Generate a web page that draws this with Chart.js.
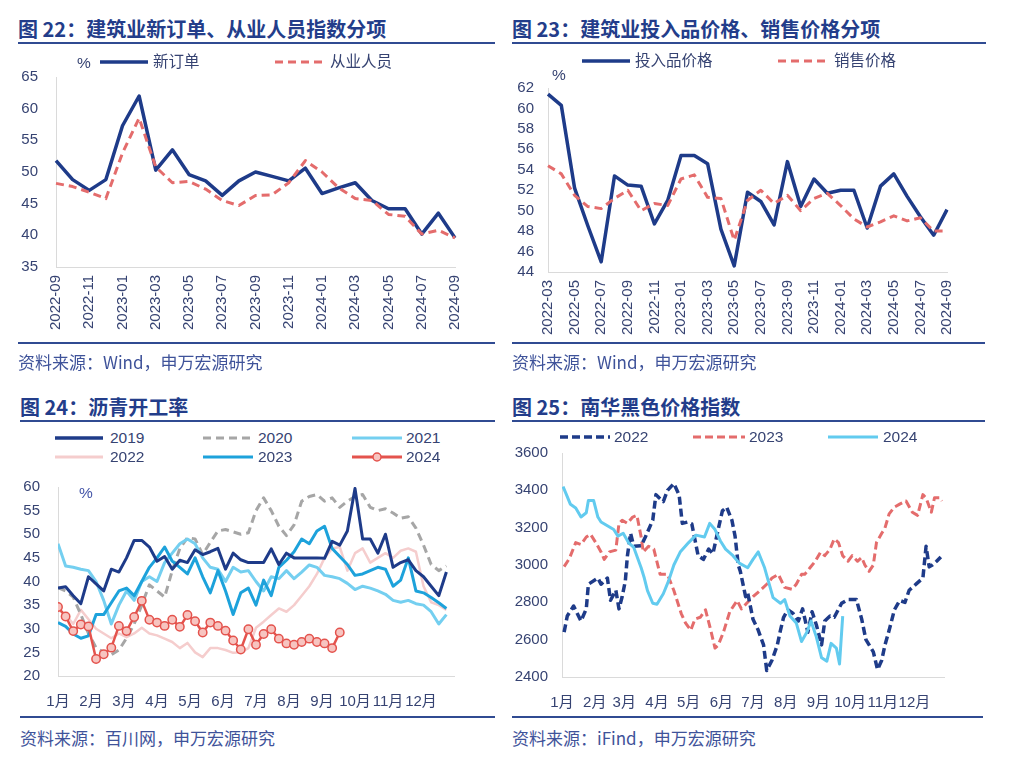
<!DOCTYPE html>
<html lang="zh-CN">
<head>
<meta charset="utf-8">
<title>建筑业与黑色商品图表</title>
<script src="https://cdn.jsdelivr.net/npm/chart.js@4.4.1/dist/chart.umd.min.js"></script>
<style>
html,body{margin:0;padding:0;background:#fff;}
body{position:relative;width:1024px;height:763px;overflow:hidden;}
canvas{position:absolute;}
.title{position:absolute;font-family:"Noto Sans CJK SC",sans-serif;font-weight:700;font-size:20px;color:#233D8A;white-space:nowrap;height:26px;line-height:26px;}
.rule{position:absolute;height:2px;background:#304B92;}
.src{position:absolute;font-family:"Noto Sans CJK SC",sans-serif;font-size:17px;color:#3F539A;white-space:nowrap;height:24px;line-height:24px;}
.lg{position:absolute;font-family:"Liberation Sans","Noto Sans CJK SC",sans-serif;font-size:15.5px;color:#364372;white-space:nowrap;height:20px;line-height:20px;z-index:2;}
.unit{color:#4556A8;}
svg.sw{position:absolute;z-index:2;overflow:visible;}
</style>
</head>
<body>
<canvas id="c1" width="500" height="300" style="left:0;top:50px"></canvas>
<canvas id="c2" width="500" height="300" style="left:500px;top:50px"></canvas>
<canvas id="c3" width="500" height="255" style="left:0;top:460px"></canvas>
<canvas id="c4" width="500" height="285" style="left:500px;top:430px"></canvas>
<script>
// ---------- Panel 22: construction new orders / employment ----------
const months1 = ['2022-09','2022-10','2022-11','2022-12','2023-01','2023-02','2023-03','2023-04','2023-05','2023-06','2023-07','2023-08','2023-09','2023-10','2023-11','2023-12','2024-01','2024-02','2024-03','2024-04','2024-05','2024-06','2024-07','2024-08','2024-09'];
const newOrders = [51.8,48.8,47.1,48.8,57.3,62.0,50.3,53.5,49.6,48.6,46.3,48.6,50.0,49.3,48.6,50.6,46.6,47.5,48.3,45.5,44.2,44.2,40.2,43.5,39.6];
const employment = [48.2,47.7,46.8,45.8,53.0,58.5,50.8,48.3,48.5,47.3,45.5,44.7,46.3,46.4,48.3,51.8,50.0,47.5,45.8,45.5,43.3,43.0,40.2,40.8,39.6];

// ---------- Panel 23: input price / sales price ----------
const months2 = ['2022-03','2022-04','2022-05','2022-06','2022-07','2022-08','2022-09','2022-10','2022-11','2022-12','2023-01','2023-02','2023-03','2023-04','2023-05','2023-06','2023-07','2023-08','2023-09','2023-10','2023-11','2023-12','2024-01','2024-02','2024-03','2024-04','2024-05','2024-06','2024-07','2024-08','2024-09'];
const inputPrice = [61.4,60.3,52.2,48.5,45.0,53.4,52.5,52.4,48.7,51.0,55.4,55.4,54.6,48.2,44.6,51.8,50.9,48.6,54.8,50.4,53.1,51.7,52.0,52.0,48.3,52.4,53.6,51.4,49.4,47.6,50.1];
const salesPrice = [54.4,53.6,51.5,50.4,50.2,51.2,52.0,50.0,50.7,50.5,53.1,53.5,51.3,51.2,47.1,51.0,52.0,50.7,51.5,50.0,51.2,51.7,50.5,49.2,48.4,48.9,49.5,49.0,49.3,48.0,48.0];

// ---------- Panel 24: asphalt operating rate (weekly) ----------
const monthLabels = ['1月','2月','3月','4月','5月','6月','7月','8月','9月','10月','11月','12月'];
const asphalt2019 = [38.6,38.9,37.0,35.3,41.0,39.5,38.0,42.6,42.0,45.0,48.7,48.7,47.3,44.3,45.3,42.6,44.5,44.0,46.7,45.7,46.3,47.0,42.6,46.0,44.6,44.0,44.0,44.0,46.9,43.6,46.0,45.0,45.0,45.0,45.0,44.9,48.5,47.7,50.7,59.7,49.0,49.0,46.0,50.0,43.0,44.0,44.6,42.3,41.0,39.0,37.0,42.0];
const asphalt2020 = [38.7,38.0,36.7,33.0,29.0,26.0,25.0,24.5,25.5,28.0,31.0,35.0,39.3,38.0,36.7,42.3,47.0,49.3,49.0,45.7,48.3,50.7,51.0,50.5,50.0,50.3,55.0,57.7,55.0,51.7,49.7,52.0,57.0,58.0,58.4,57.0,57.7,55.7,57.0,58.0,58.4,55.7,55.0,55.4,54.5,53.4,53.7,51.3,47.7,43.6,42.3,43.3];
const asphalt2021 = [48.0,43.3,43.0,42.6,42.3,40.0,36.0,31.0,35.0,38.0,36.0,40.0,41.0,40.0,44.0,46.0,48.0,49.0,48.0,45.0,43.0,42.6,40.0,43.0,42.0,42.3,40.0,38.0,41.0,40.6,42.3,40.6,42.0,43.5,43.0,41.3,41.0,40.6,39.6,38.3,39.0,38.6,38.0,37.3,36.0,35.6,36.0,35.3,35.0,33.6,31.0,33.0];
const asphalt2022 = [34.0,33.0,31.0,34.0,32.0,30.0,29.0,28.0,29.0,28.2,29.0,30.2,29.0,28.6,27.9,27.2,25.9,27.0,25.0,24.0,25.9,25.9,25.5,24.9,25.0,25.9,30.2,31.5,32.9,34.3,33.6,35.0,37.0,39.0,41.6,45.0,47.0,47.3,42.3,46.0,47.0,44.0,45.0,46.0,45.0,46.5,47.0,46.3,39.0,35.6,35.0,34.0];
const asphalt2023 = [31.3,30.5,28.9,28.0,28.5,33.0,33.0,35.5,38.0,38.6,37.0,40.0,43.0,45.0,47.3,44.3,43.0,41.6,45.0,41.0,37.6,42.3,38.0,33.0,37.6,38.6,35.0,40.3,37.0,43.0,44.5,46.3,49.0,48.0,50.7,51.7,47.0,45.3,43.6,41.3,41.6,42.3,43.0,42.6,39.0,40.3,45.0,38.0,37.6,36.6,35.5,34.3];
const asphalt2024 = [34.6,32.6,29.5,30.9,30.5,23.6,24.6,26.0,30.6,29.5,32.5,35.9,31.9,31.3,30.6,31.9,30.4,32.9,31.6,29.2,31.3,30.6,29.6,27.5,25.6,29.9,26.6,28.9,29.9,27.9,26.9,26.6,27.2,27.9,27.2,26.9,25.9,29.2];
const weeksPerYear = 52;

// ---------- Panel 25: Nanhua ferrous index (day of year) ----------
const monthStartDays = [0,31,59,90,120,151,181,212,243,273,304,334];
const nh2022Days = [2,5,11,18,23,25,34,37,43,46,51,54,57,60,62,65,68,75,79,86,89,92,96,100,106,111,114,119,123,129,134,139,143,148,152,156,161,164,167,169,174,176,181,186,191,194,199,204,207,210,214,219,224,228,233,237,241,246,249,254,258,265,271,279,284,288,295,299,303,306,310,315,320,325,329,332,336,342,345,348,351,355,359];
const nh2022 = [2640,2727,2780,2700,2765,2897,2930,2897,2930,2811,2865,2765,2830,2914,3050,3170,3100,3103,3150,3240,3377,3360,3340,3400,3437,3375,3223,3230,3220,3050,3030,3085,3060,3190,3290,3310,3240,3155,3000,2966,2830,2850,2709,2650,2572,2435,2490,2570,2650,2720,2760,2740,2700,2765,2640,2750,2680,2572,2700,2727,2720,2795,2815,2815,2710,2600,2535,2440,2490,2570,2650,2760,2810,2800,2865,2880,2900,2930,3100,2990,3000,3020,3043];
const nh2023Days = [2,7,13,18,23,27,32,37,40,45,51,54,57,62,67,71,75,77,82,87,90,93,100,106,113,117,122,126,131,136,141,145,148,153,159,166,170,175,181,188,194,199,205,211,218,222,227,230,235,240,245,249,254,258,262,266,271,275,280,284,287,291,295,298,303,306,310,315,320,326,332,337,342,345,350,353,358,360];
const nh2023 = [2991,3035,3120,3110,3150,3165,3120,3070,3030,3070,3080,3223,3240,3223,3257,3266,3150,3070,3100,3085,3017,2950,2950,2863,2740,2690,2650,2710,2720,2760,2650,2555,2570,2640,2750,2810,2765,2795,2830,2865,2897,2930,2950,2880,2870,2897,2950,2950,2985,3020,3069,3050,3085,3140,3120,3050,3020,3050,3020,3040,3000,2966,3000,3120,3170,3197,3274,3310,3326,3343,3283,3266,3377,3360,3283,3360,3360,3343];
const nh2024Days = [1,4,8,13,18,23,25,30,34,37,43,49,53,58,63,68,75,78,81,86,90,96,101,106,112,120,127,135,140,145,150,155,162,168,176,181,186,192,200,207,211,216,222,227,232,236,241,246,251,255,260,263,266];
const nh2024 = [3420,3380,3325,3305,3257,3280,3345,3345,3257,3230,3210,3190,3155,3170,3120,3094,2985,2930,2863,2795,2790,2846,2915,3000,3069,3120,3160,3150,3223,3190,3130,3085,3050,3010,2985,3030,3070,2985,2825,2795,2815,2727,2690,2590,2640,2700,2615,2503,2485,2580,2555,2470,2726];

// ---------- colours ----------
const NAVY = '#1E3B89', RED = '#E46C6C', GRAY = '#A6A6A6', LCYAN = '#74CFF0', PINK = '#F5CDCD', MCYAN = '#1DA2DB', RED24 = '#E4534D', CYAN24 = '#62CBEF';
const TICK = '#364372';
const FONT = {family:'"Liberation Sans","Noto Sans CJK SC",sans-serif', size:15};

// ---------- static text helpers ----------
function addDiv(cls, x, cy, h, text) {
  const d = document.createElement('div');
  d.className = cls; d.textContent = text;
  d.style.left = x + 'px'; d.style.top = (cy - h / 2) + 'px';
  document.body.appendChild(d); return d;
}
function rule(x1, x2, y) {
  const d = document.createElement('div'); d.className = 'rule';
  d.style.left = x1 + 'px'; d.style.width = (x2 - x1) + 'px'; d.style.top = (y - 1) + 'px';
  document.body.appendChild(d);
}
const SVGNS = 'http://www.w3.org/2000/svg';
function swatch(x1, x2, y, color, w, dash, marker) {
  const s = document.createElementNS(SVGNS, 'svg'); s.setAttribute('class', 'sw');
  s.setAttribute('width', x2 - x1 + 10); s.setAttribute('height', 14);
  s.style.left = (x1 - 5) + 'px'; s.style.top = (y - 7) + 'px';
  const l = document.createElementNS(SVGNS, 'line');
  l.setAttribute('x1', 5); l.setAttribute('x2', x2 - x1 + 5); l.setAttribute('y1', 7); l.setAttribute('y2', 7);
  l.setAttribute('stroke', color); l.setAttribute('stroke-width', w);
  if (dash) l.setAttribute('stroke-dasharray', dash.join(','));
  s.appendChild(l);
  if (marker) {
    const c = document.createElementNS(SVGNS, 'circle');
    c.setAttribute('cx', (x2 - x1) / 2 + 5); c.setAttribute('cy', 7); c.setAttribute('r', 4);
    c.setAttribute('fill', '#F7C4C0'); c.setAttribute('stroke', color); c.setAttribute('stroke-width', 1.5);
    s.appendChild(c);
  }
  document.body.appendChild(s);
}

// titles, rules, sources
addDiv('title', 18, 29, 26, '图 22：建筑业新订单、从业人员指数分项');
addDiv('title', 512, 29, 26, '图 23：建筑业投入品价格、销售价格分项');
addDiv('title', 20, 407, 26, '图 24：沥青开工率');
addDiv('title', 512, 407, 26, '图 25：南华黑色价格指数');
rule(18, 495, 42.5); rule(512, 986, 42.5);
rule(18, 495, 342.5); rule(512, 985, 342.5);
rule(20, 495, 421); rule(512, 985, 421);
rule(20, 495, 717); rule(512, 983, 717);
addDiv('src', 18, 361.5, 24, '资料来源：Wind，申万宏源研究');
addDiv('src', 512, 361.5, 24, '资料来源：Wind，申万宏源研究');
addDiv('src', 20, 738, 24, '资料来源：百川网，申万宏源研究');
addDiv('src', 512, 738, 24, '资料来源：iFind，申万宏源研究');

// legends
addDiv('lg', 77, 62.5, 20, '%');
swatch(100, 148, 62, NAVY, 3.5); addDiv('lg', 153, 62, 20, '新订单');
swatch(275, 325, 62, RED, 3, [8,5]); addDiv('lg', 330, 62, 20, '从业人员');

swatch(582, 630, 61, NAVY, 3.5); addDiv('lg', 635, 61, 20, '投入品价格');
swatch(778, 830, 61, RED, 3, [8,5]); addDiv('lg', 834, 61, 20, '销售价格');
addDiv('lg', 552, 75, 20, '%');

swatch(55, 103, 437.5, NAVY, 3.5); addDiv('lg', 110, 437.5, 20, '2019');
swatch(203, 253, 437.5, GRAY, 3, [8,5]); addDiv('lg', 258, 437.5, 20, '2020');
swatch(352, 402, 437.5, LCYAN, 3); addDiv('lg', 406, 437.5, 20, '2021');
swatch(55, 103, 457, PINK, 3); addDiv('lg', 110, 457, 20, '2022');
swatch(203, 253, 457, MCYAN, 3); addDiv('lg', 258, 457, 20, '2023');
swatch(352, 402, 457, RED24, 3, null, true); addDiv('lg', 406, 457, 20, '2024');
addDiv('lg unit', 79, 493, 20, '%');

swatch(560, 610, 437, NAVY, 3.5, [8,4]); addDiv('lg', 614, 437, 20, '2022');
swatch(693, 745, 437, RED, 3, [8,4]); addDiv('lg', 749, 437, 20, '2023');
swatch(828, 878, 437, CYAN24, 3); addDiv('lg', 883, 437, 20, '2024');

// ---------- chart option builder ----------
function opts(o) {
  return {
    responsive: false, animation: false, devicePixelRatio: 1,
    layout: {padding: {top: o.top, right: o.right, left: 0, bottom: 0}},
    plugins: {legend: {display: false}, tooltip: {enabled: false}},
    elements: {point: {radius: 0}, line: {tension: 0, borderJoinStyle: 'round', borderCapStyle: 'butt'}},
    scales: {
      y: {min: o.yMin, max: o.yMax,
          ticks: {stepSize: o.yStep, autoSkip: false, font: FONT, color: TICK, padding: o.yPad,
                  callback: v => String(v)},
          grid: {display: false, drawTicks: false}, border: {display: true, color: '#DADADA', width: 1},
          afterFit(s) { s.width = o.yW; }},
      x: Object.assign({
          grid: {display: false, drawTicks: false}, border: {display: true, color: '#DADADA', width: 1},
          afterFit(s) { s.height = o.xH; }}, o.x)
    }
  };
}
function line(label, data, color, width, dash) {
  return {label, data, borderColor: color, backgroundColor: color, borderWidth: width, borderDash: dash || [], fill: false, pointRadius: 0};
}

// Panel 22
new Chart(document.getElementById('c1'), {
  type: 'line',
  data: {labels: months1, datasets: [
    line('从业人员', employment, RED, 3, [8,5]),
    line('新订单', newOrders, NAVY, 3.5)
  ]},
  options: opts({top: 17, right: 45, yMin: 35, yMax: 65, yStep: 5, yW: 56, yPad: 18, xH: 83,
    x: {type: 'category', ticks: {autoSkip: false, minRotation: 90, maxRotation: 90, padding: 8, font: FONT, color: TICK,
        callback: (v, i) => (i % 2 === 0 ? months1[i] : '')}}})
});

// Panel 23
new Chart(document.getElementById('c2'), {
  type: 'line',
  data: {labels: months2, datasets: [
    line('销售价格', salesPrice, RED, 3, [8,5]),
    line('投入品价格', inputPrice, NAVY, 3.5)
  ]},
  options: opts({top: 38, right: 53, yMin: 44, yMax: 62, yStep: 2, yW: 48, yPad: 14, xH: 78,
    x: {type: 'category', ticks: {autoSkip: false, minRotation: 90, maxRotation: 90, padding: 8, font: FONT, color: TICK,
        callback: (v, i) => (i % 2 === 0 ? months2[i] : '')}}})
});

// Panel 24
const xy = arr => arr.map((v, i) => ({x: i, y: v}));
const ds2024 = line('2024', xy(asphalt2024), RED24, 2.5);
Object.assign(ds2024, {pointRadius: 4.2, pointBackgroundColor: '#F7C4C0', pointBorderColor: RED24, pointBorderWidth: 1.5});
new Chart(document.getElementById('c3'), {
  type: 'line',
  data: {datasets: [
    ds2024,
    line('2019', xy(asphalt2019), NAVY, 3),
    line('2023', xy(asphalt2023), MCYAN, 3),
    line('2021', xy(asphalt2021), LCYAN, 3),
    line('2020', xy(asphalt2020), GRAY, 3, [8,5]),
    line('2022', xy(asphalt2022), PINK, 2.5)
  ]},
  options: opts({top: 17, right: 46, yMin: 20, yMax: 60, yStep: 5, yW: 58, yPad: 18, xH: 39,
    x: {type: 'linear', min: 0, max: weeksPerYear,
        afterBuildTicks(s) { s.ticks = monthLabels.map((_, i) => ({value: i * weeksPerYear / 12})); },
        ticks: {autoSkip: false, maxRotation: 0, padding: 17, font: FONT, color: TICK,
                callback: (v, i) => monthLabels[i]}}})
});

// Panel 25
const dxy = (days, vals) => days.map((d, i) => ({x: d, y: vals[i]}));
new Chart(document.getElementById('c4'), {
  type: 'line',
  data: {datasets: [
    line('2024', dxy(nh2024Days, nh2024), CYAN24, 3),
    line('2022', dxy(nh2022Days, nh2022), NAVY, 3.5, [8,4]),
    line('2023', dxy(nh2023Days, nh2023), RED, 3, [8,4])
  ]},
  options: opts({top: 13, right: 56, yMin: 2400, yMax: 3600, yStep: 200, yW: 62, yPad: 14, xH: 38,
    x: {type: 'linear', min: 0, max: 362,
        afterBuildTicks(s) { s.ticks = monthStartDays.map(d => ({value: d})); },
        ticks: {autoSkip: false, maxRotation: 0, padding: 17, font: FONT, color: TICK,
                callback: (v, i) => monthLabels[i]}}})
});
</script>
</body>
</html>
